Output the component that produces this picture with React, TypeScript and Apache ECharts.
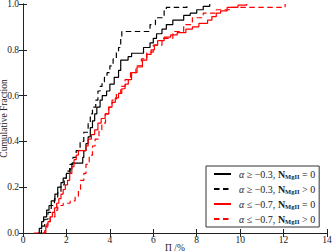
import React, { useEffect, useRef } from "react";
import * as echarts from "echarts";

// Black solid: alpha >= -0.3, N_MgII = 0
const blackSolidX = [0.68, 0.75, 0.86, 0.95, 1.09, 1.2, 1.3, 1.47, 1.6, 1.75, 1.85, 2.0, 2.17, 2.25, 2.75, 2.8, 2.9, 3.0, 3.1, 3.2, 3.3, 3.4, 3.55, 3.65, 3.85, 4.0, 4.2, 4.4, 4.5, 4.84, 5.0, 5.55, 5.85, 6.0, 6.15, 6.4, 6.6, 6.9, 7.4, 7.7, 8.0, 8.3, 8.6];
const blackSolidY = [0, 0.02, 0.05, 0.07, 0.1, 0.12, 0.14, 0.17, 0.2, 0.22, 0.24, 0.26, 0.28, 0.305, 0.33, 0.36, 0.39, 0.42, 0.46, 0.49, 0.52, 0.55, 0.58, 0.6, 0.62, 0.65, 0.68, 0.71, 0.755, 0.77, 0.785, 0.81, 0.83, 0.85, 0.87, 0.89, 0.91, 0.93, 0.95, 0.96, 0.975, 0.99, 1.0];

// Black dashed: alpha >= -0.3, N_MgII > 0
const blackDashX = [0.75, 0.85, 1.0, 1.15, 1.3, 1.45, 1.6, 1.75, 1.9, 2.0, 2.15, 2.3, 2.45, 2.63, 2.8, 3.0, 3.1, 3.2, 3.35, 3.45, 3.55, 3.64, 3.75, 3.87, 4.0, 4.15, 4.3, 4.4, 4.5, 4.55, 5.85, 6.1, 6.5, 6.6, 7.55];
const blackDashY = [0, 0.03, 0.06, 0.09, 0.12, 0.15, 0.18, 0.21, 0.24, 0.27, 0.3, 0.33, 0.36, 0.4, 0.44, 0.48, 0.52, 0.55, 0.58, 0.62, 0.64, 0.66, 0.68, 0.7, 0.73, 0.76, 0.79, 0.81, 0.85, 0.88, 0.91, 0.94, 0.97, 0.985, 1.0];

// Red solid: alpha <= -0.7, N_MgII = 0
const redSolidX = [0.9, 1.05, 1.15, 1.25, 1.35, 1.45, 1.55, 1.65, 1.75, 1.85, 1.95, 2.05, 2.15, 2.25, 2.35, 2.45, 2.55, 2.9, 3.0, 3.15, 3.3, 3.45, 3.6, 3.78, 3.95, 4.1, 4.25, 4.4, 4.55, 4.7, 4.85, 5.0, 5.25, 5.5, 5.7, 5.9, 6.05, 6.2, 6.5, 6.8, 7.1, 7.5, 7.8, 8.1, 8.5, 8.7, 8.9, 9.1, 9.4, 9.9, 10.3];
const redSolidY = [0, 0.03, 0.05, 0.07, 0.09, 0.11, 0.13, 0.15, 0.17, 0.19, 0.21, 0.23, 0.26, 0.29, 0.32, 0.34, 0.36, 0.38, 0.41, 0.43, 0.45, 0.48, 0.5, 0.52, 0.55, 0.57, 0.59, 0.61, 0.63, 0.65, 0.67, 0.7, 0.725, 0.755, 0.78, 0.8, 0.82, 0.84, 0.855, 0.865, 0.875, 0.89, 0.9, 0.915, 0.93, 0.945, 0.96, 0.97, 0.985, 0.995, 1.0];

// Red dashed: alpha <= -0.7, N_MgII > 0
const redDashX = [0.5, 1.0, 1.1, 1.25, 1.47, 1.6, 1.85, 2.17, 2.4, 2.55, 2.65, 2.8, 2.9, 3.05, 3.2, 3.32, 3.5, 3.63, 3.8, 3.95, 4.1, 4.3, 4.5, 4.7, 4.95, 5.2, 5.45, 5.7, 6.0, 6.4, 6.9, 7.4, 7.8, 8.3, 8.9, 9.5, 12.07];
const redDashY = [0, 0.01, 0.04, 0.07, 0.1, 0.12, 0.13, 0.14, 0.16, 0.19, 0.23, 0.26, 0.3, 0.34, 0.38, 0.41, 0.45, 0.48, 0.52, 0.55, 0.58, 0.61, 0.64, 0.67, 0.7, 0.73, 0.76, 0.79, 0.82, 0.85, 0.88, 0.91, 0.94, 0.96, 0.975, 0.985, 1.0];

const seriesNames = ["s1", "s2", "s3", "s4"];
const legendLabels: Record<string, string> = {
  s1: "{i|α}{a| ≥ −0.3, }{b|N}{s|MgII}{a| = 0}",
  s2: "{i|α}{a| ≥ −0.3, }{b|N}{s|MgII}{a| > 0}",
  s3: "{i|α}{a| ≤ −0.7, }{b|N}{s|MgII}{a| = 0}",
  s4: "{i|α}{a| ≤ −0.7, }{b|N}{s|MgII}{a| > 0}",
};

const xMin = 0, xMax = 14, xStep = 2;
const yMin = 0, yMax = 1, yStep = 0.2;

const FONT = "'Liberation Serif', 'DejaVu Serif', serif";

function pairs(xs: number[], ys: number[]) {
  return xs.map((x, i) => [x, ys[i]]);
}

export default function App() {
  const ref = useRef<HTMLDivElement>(null);
  useEffect(() => {
    if (!ref.current) return;
    const chart = echarts.init(ref.current, undefined, { renderer: "svg" });
    const axisLine = { show: true, lineStyle: { color: "#222", width: 1 } };
    const tick = { show: true, inside: true, length: 4, lineStyle: { color: "#222", width: 1 } };
    const mkSeries = (name: string, data: number[][], color: string, dashed: boolean) => ({
      name,
      type: "line",
      step: "end",
      data,
      symbol: "none",
      showSymbol: false,
      lineStyle: { color, width: 1.2, type: dashed ? [5.5, 3.5] : "solid" },
      itemStyle: { color },
      xAxisIndex: 0,
      yAxisIndex: 0,
    });
    chart.setOption({
      animation: false,
      backgroundColor: "#fff",
      grid: { left: 23, right: 7, top: 4, bottom: 18, containLabel: false, outerBoundsMode: "none" },
      xAxis: [
        {
          type: "value", position: "bottom", min: xMin, max: xMax, interval: xStep,
          axisLine, axisTick: tick, splitLine: { show: false },
          axisLabel: { fontFamily: FONT, fontSize: 9.5, color: "#222", margin: 2 },
          name: "Π /%", nameLocation: "middle", nameGap: 9.5, nameMoveOverlap: false,
          nameTextStyle: { fontFamily: FONT, fontSize: 9.5, color: "#222" },
        },
        {
          type: "value", position: "top", min: xMin, max: xMax, interval: xStep,
          axisLine, axisTick: tick, splitLine: { show: false }, axisLabel: { show: false },
        },
      ],
      yAxis: [
        {
          type: "value", position: "left", min: yMin, max: yMax, interval: yStep,
          axisLine, axisTick: tick, splitLine: { show: false },
          axisLabel: { fontFamily: FONT, fontSize: 9.5, color: "#222", margin: 4, formatter: (v: number) => v.toFixed(1) },
          name: "Cumulative Fraction", nameLocation: "middle", nameGap: 14, nameMoveOverlap: false,
          nameTextStyle: { fontFamily: FONT, fontSize: 9.5, color: "#222" },
        },
        {
          type: "value", position: "right", min: yMin, max: yMax, interval: yStep,
          axisLine, axisTick: tick, splitLine: { show: false }, axisLabel: { show: false },
        },
      ],
      legend: {
        orient: "vertical",
        left: 206,
        top: 166,
        data: seriesNames,
        itemWidth: 17,
        itemHeight: 10,
        itemGap: 3,
        padding: [2, 4, 2, 7],
        borderColor: "#333",
        borderWidth: 1,
        borderRadius: 0,
        backgroundColor: "#fff",
        itemStyle: { opacity: 0 },
        formatter: (name: string) => legendLabels[name],
        textStyle: {
          fontFamily: FONT,
          fontSize: 10,
          color: "#222",
          rich: {
            i: { fontFamily: FONT, fontSize: 10, fontStyle: "italic", color: "#222", lineHeight: 12, padding: [0, 0, 0, 3] },
            a: { fontFamily: FONT, fontSize: 10, color: "#222", lineHeight: 12 },
            b: { fontFamily: FONT, fontSize: 10, fontWeight: "bold", color: "#222", lineHeight: 12 },
            s: { fontFamily: FONT, fontSize: 6.5, fontWeight: "bold", color: "#222", lineHeight: 12, padding: [5, 0, 0, 0] },
          },
        },
      },
      series: [
        mkSeries("s1", pairs(blackSolidX, blackSolidY), "#000000", false),
        mkSeries("s2", pairs(blackDashX, blackDashY), "#000000", true),
        mkSeries("s3", pairs(redSolidX, redSolidY), "#ff0000", false),
        mkSeries("s4", pairs(redDashX, redDashY), "#ff0000", true),
      ],
    });
    return () => chart.dispose();
  }, []);
  return <div ref={ref} style={{ position: "fixed", left: 0, top: 0, width: 334, height: 251 }} />;
}
